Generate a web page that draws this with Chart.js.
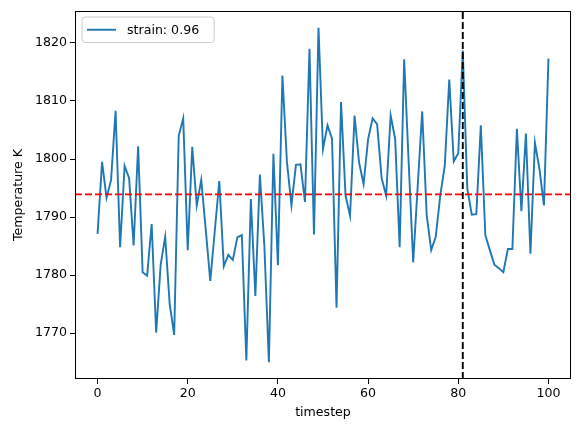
<!DOCTYPE html>
<html>
<head>
<meta charset="utf-8">
<script src="https://cdn.jsdelivr.net/npm/chart.js@4.4.0/dist/chart.umd.min.js"></script>
<style>
  html, body { margin: 0; padding: 0; background: #fff; }
  #wrap { width: 581px; height: 433px; }
</style>
</head>
<body>
<div id="wrap"><canvas id="c" width="581" height="433"></canvas></div>
<script>
// ---- data ----
const timesteps = Array.from({length: 101}, (_, i) => i);
const temperature = [
  1787.1, 1799.5, 1793.3, 1796.4, 1808.3, 1784.8, 1798.8, 1796.7, 1785.1, 1802.2,
  1780.5, 1779.9, 1788.8, 1770.1, 1781.8, 1786.6, 1775.0, 1769.7, 1804.0, 1807.0,
  1784.3, 1802.1, 1792.0, 1796.4, 1787.8, 1779.0, 1787.6, 1796.2, 1781.5, 1783.5,
  1782.6, 1786.5, 1786.9, 1765.3, 1793.1, 1776.4, 1797.3, 1785.0, 1765.0, 1800.9,
  1781.7, 1814.4, 1799.5, 1792.0, 1799.0, 1799.1, 1792.6, 1819.0, 1787.0, 1822.6,
  1801.7, 1805.8, 1803.5, 1774.4, 1809.8, 1793.7, 1790.2, 1807.5, 1799.4, 1795.7,
  1803.4, 1807.0, 1806.0, 1796.7, 1793.7, 1807.5, 1803.5, 1784.8, 1817.2, 1799.4,
  1782.2, 1795.3, 1808.2, 1790.3, 1784.3, 1786.6, 1793.7, 1798.8, 1813.7, 1799.6,
  1801.0, 1818.7, 1794.9, 1790.4, 1790.5, 1805.8, 1786.9, 1784.3, 1781.8, 1781.2,
  1780.5, 1784.5, 1784.5, 1805.2, 1791.0, 1804.4, 1783.7, 1802.8, 1798.3, 1792.0,
  1817.3
];
const seriesLabel = 'strain: 0.96';
const meanTemperature = 1793.9;
const markerTimestep = 81;
const xTicks = [0, 20, 40, 60, 80, 100];
const yTicks = [1770, 1780, 1790, 1800, 1810, 1820];
const xRange = [-5, 105];
const yRange = [1762.1, 1825.5];

const FONT = "'DejaVu Sans', sans-serif";
const points = timesteps.map((t, i) => ({x: t, y: temperature[i]}));

const refLines = {
  id: 'refLines',
  afterDatasetsDraw(chart) {
    const {ctx, chartArea: a, scales: {x, y}} = chart;
    ctx.save();
    ctx.beginPath();
    ctx.rect(a.left, a.top, a.right - a.left, a.bottom - a.top);
    ctx.clip();
    ctx.lineWidth = 1.9;
    ctx.setLineDash([7, 3]);
    const yp = y.getPixelForValue(meanTemperature);
    ctx.strokeStyle = '#ff0000';
    ctx.beginPath();
    ctx.moveTo(a.left, yp);
    ctx.lineTo(a.right, yp);
    ctx.stroke();
    const xp = x.getPixelForValue(markerTimestep);
    ctx.strokeStyle = '#000000';
    ctx.beginPath();
    ctx.moveTo(xp, a.bottom);
    ctx.lineTo(xp, a.top);
    ctx.stroke();
    ctx.restore();
  },
  afterDraw(chart) {
    const {ctx, chartArea: a} = chart;
    ctx.save();
    ctx.strokeStyle = '#000';
    ctx.lineWidth = 1;
    ctx.strokeRect(Math.round(a.left) + 0.5, Math.round(a.top) + 0.5,
                   Math.round(a.right - a.left) - 1, Math.round(a.bottom - a.top) - 1);
    // legend
    ctx.font = '12.6px ' + FONT;
    const label = chart.data.datasets[0].label;
    const tw = ctx.measureText(label).width;
    const bx = a.left + 7, by = a.top + 6;
    const bw = 12 + 29 + 11 + tw + 8, bh = 25.5;
    const r = 3;
    ctx.beginPath();
    ctx.moveTo(bx + r, by);
    ctx.lineTo(bx + bw - r, by);
    ctx.quadraticCurveTo(bx + bw, by, bx + bw, by + r);
    ctx.lineTo(bx + bw, by + bh - r);
    ctx.quadraticCurveTo(bx + bw, by + bh, bx + bw - r, by + bh);
    ctx.lineTo(bx + r, by + bh);
    ctx.quadraticCurveTo(bx, by + bh, bx, by + bh - r);
    ctx.lineTo(bx, by + r);
    ctx.quadraticCurveTo(bx, by, bx + r, by);
    ctx.closePath();
    ctx.fillStyle = 'rgba(255,255,255,0.8)';
    ctx.fill();
    ctx.strokeStyle = '#cccccc';
    ctx.lineWidth = 1;
    ctx.stroke();
    const ly = by + bh / 2;
    ctx.strokeStyle = chart.data.datasets[0].borderColor;
    ctx.lineWidth = 1.9;
    ctx.beginPath();
    ctx.moveTo(bx + 5, ly);
    ctx.lineTo(bx + 34, ly);
    ctx.stroke();
    ctx.fillStyle = '#000';
    ctx.textBaseline = 'middle';
    ctx.textAlign = 'left';
    ctx.fillText(label, bx + 45, ly + 0.5);
    ctx.restore();
  }
};

new Chart(document.getElementById('c'), {
  type: 'line',
  data: {
    datasets: [{
      label: seriesLabel,
      data: points,
      borderColor: '#1f77b4',
      borderWidth: 1.9,
      pointRadius: 0,
      tension: 0,
      fill: false
    }]
  },
  options: {
    responsive: false,
    animation: false,
    devicePixelRatio: 1,
    layout: { padding: { top: 11, right: 10, left: 7, bottom: 13 } },
    plugins: { legend: { display: false }, tooltip: { enabled: false } },
    scales: {
      x: {
        type: 'linear',
        min: xRange[0], max: xRange[1],
        afterBuildTicks: s => { s.ticks = xTicks.map(v => ({value: v})); },
        afterFit: s => { s.height = 41; },
        grid: { drawOnChartArea: false, drawTicks: true, tickLength: 5, color: '#000', tickWidth: 1 },
        border: { display: false },
        ticks: { color: '#000', font: { family: FONT, size: 12.6 }, padding: 2, maxRotation: 0,
                 callback: v => String(v) },
        title: { display: true, text: 'timestep', color: '#000', font: { family: FONT, size: 12.6 },
                 padding: { top: 1, bottom: 0 } }
      },
      y: {
        type: 'linear',
        min: yRange[0], max: yRange[1],
        afterBuildTicks: s => { s.ticks = yTicks.map(v => ({value: v})); },
        afterFit: s => { s.width = 68; },
        grid: { drawOnChartArea: false, drawTicks: true, tickLength: 5, color: '#000', tickWidth: 1 },
        border: { display: false },
        ticks: { color: '#000', font: { family: FONT, size: 12.6 }, padding: 3,
                 callback: v => String(v) },
        title: { display: true, text: 'Temperature K', color: '#000', font: { family: FONT, size: 12.6 },
                 padding: { top: 4, bottom: 4 } }
      }
    }
  },
  plugins: [refLines]
});
</script>
</body>
</html>
